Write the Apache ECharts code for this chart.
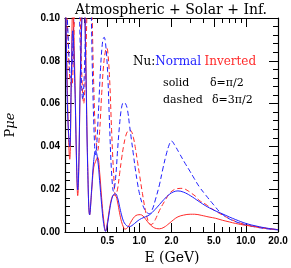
<!DOCTYPE html>
<html><head><meta charset="utf-8">
<script src="https://cdn.jsdelivr.net/npm/echarts@6/dist/echarts.min.js"></script>
<style>html,body{margin:0;padding:0;background:#fff}#c{width:291px;height:268px}</style>
</head><body><div id="c"></div>
<script>
// ---- tick labels ----
const xTickValues = [0.5, 1, 2, 5, 10, 20];
const xTickLabels = ['0.5', '1.0', '2.0', '5.0', '10.0', '20.0'];
const xMinorValues = [0.3, 0.4, 0.6, 0.7, 0.8, 0.9, 3, 4, 6, 7, 8, 9];
const yTickLabels = ['0.00', '0.02', '0.04', '0.06', '0.08', '0.10'];

// ---- Normal hierarchy, delta = pi/2 (solid blue) ----
const normalSolidE = [0.200,0.207,0.213,0.2217,0.229,0.2365,0.247,0.2577,0.2633,0.2691,0.2809,0.2996,0.3128,0.3266,0.3409,0.3559,0.3716,0.3879,0.405,0.4228,0.4414,0.4608,0.481,0.5022,0.5243,0.5473,0.5715,0.5966,0.6229,0.6503,0.6789,0.7087,0.7399,0.7724,0.8064,0.85,0.90,1.0,1.1,1.24,1.4,1.54,1.7,1.9,2.1,2.3,2.6,3.0,3.64,4.2,5.0,6.0,7.0,8.0,10,12.7,15.7,20];
const normalSolidP = [0.130,0.080,0.052,0.040,0.070,0.094,0.070,0.030,0.0196,0.030,0.080,0.115,0.080,0.030,0.008,0.020,0.033,0.038,0.034,0.024,0.013,0.004,0.0003,0.004,0.010,0.015,0.0175,0.0178,0.016,0.012,0.008,0.005,0.0035,0.0027,0.0025,0.0030,0.0040,0.0058,0.0068,0.0080,0.0105,0.0128,0.0152,0.0175,0.0188,0.0192,0.0186,0.0170,0.0142,0.0122,0.0102,0.0085,0.0070,0.0058,0.0040,0.0027,0.0018,0.0011];

// ---- Inverted hierarchy, delta = pi/2 (solid red) ----
const invertedSolidE = [0.200,0.207,0.2217,0.229,0.2365,0.247,0.2577,0.2633,0.2691,0.2809,0.2996,0.3128,0.3266,0.3409,0.3559,0.3716,0.3879,0.405,0.4228,0.4414,0.4608,0.481,0.5022,0.5243,0.5473,0.5715,0.5966,0.6229,0.6503,0.6789,0.7087,0.73,0.7724,0.8064,0.85,0.90,0.96,1.02,1.08,1.15,1.24,1.35,1.45,1.54,1.7,1.9,2.1,2.3,2.6,3.0,3.3,3.8,4.5,5.2,6.0,7.0,8.0,10,12.7,15.7,20];
const invertedSolidP = [0.140,0.085,0.034,0.070,0.105,0.075,0.028,0.017,0.028,0.080,0.120,0.085,0.032,0.008,0.019,0.030,0.033,0.035,0.028,0.016,0.006,0.0005,0.005,0.011,0.0155,0.0172,0.017,0.014,0.009,0.0048,0.0022,0.0013,0.0020,0.0035,0.0055,0.0072,0.0080,0.0081,0.0075,0.0058,0.0038,0.0022,0.0016,0.0015,0.0022,0.0040,0.0058,0.0071,0.0079,0.0083,0.0083,0.0078,0.0070,0.0064,0.0055,0.0047,0.0040,0.0031,0.0024,0.0017,0.0011];

// ---- Normal hierarchy, delta = 3pi/2 (dashed blue) ----
const normalDashedE = [0.200,0.2034,0.2124,0.2217,0.2265,0.2365,0.2469,0.2577,0.2691,0.2809,0.2933,0.3062,0.3196,0.3337,0.3483,0.3637,0.3797,0.3879,0.3963,0.4138,0.432,0.451,0.4659,0.481,0.5022,0.5243,0.5473,0.5715,0.5966,0.6229,0.6503,0.6789,0.7087,0.7399,0.7724,0.8064,0.8418,0.8788,0.9175,0.9579,1.0,1.067,1.138,1.24,1.32,1.41,1.54,1.65,1.78,1.91,2.0,2.12,2.37,2.69,2.93,3.27,3.64,4.23,4.92,5.84,6.94,8.24,10,12.67,15.72,20];
const normalDashedP = [0.110,0.112,0.095,0.075,0.072,0.085,0.115,0.135,0.115,0.080,0.062,0.080,0.120,0.140,0.115,0.070,0.040,0.036,0.040,0.058,0.077,0.089,0.091,0.088,0.075,0.050,0.028,0.019,0.025,0.038,0.050,0.058,0.0605,0.060,0.057,0.050,0.043,0.036,0.029,0.023,0.018,0.013,0.010,0.0085,0.0105,0.015,0.022,0.029,0.036,0.041,0.0425,0.041,0.0368,0.032,0.029,0.025,0.0212,0.017,0.013,0.0088,0.0062,0.0046,0.0033,0.0022,0.0015,0.0010];

// ---- Inverted hierarchy, delta = 3pi/2 (dashed red) ----
const invertedDashedE = [0.200,0.2034,0.2124,0.2217,0.2314,0.2416,0.2522,0.2633,0.2749,0.287,0.2996,0.3128,0.3266,0.3409,0.3559,0.3716,0.3879,0.405,0.4228,0.4414,0.4608,0.481,0.4915,0.5022,0.5243,0.5473,0.5715,0.5966,0.6229,0.6503,0.6789,0.7087,0.7399,0.7724,0.8064,0.8418,0.8788,0.9175,0.9579,1.0,1.067,1.138,1.20,1.24,1.29,1.35,1.41,1.54,1.65,1.78,1.91,2.12,2.3,2.54,2.8,3.1,3.4,3.64,4.23,4.92,5.84,6.94,8.24,10,12.67,15.72,20];
const invertedDashedP = [0.105,0.108,0.092,0.072,0.068,0.090,0.120,0.130,0.110,0.075,0.060,0.080,0.115,0.135,0.110,0.070,0.045,0.038,0.047,0.064,0.078,0.085,0.086,0.085,0.072,0.048,0.028,0.017,0.020,0.027,0.034,0.040,0.0445,0.047,0.0477,0.047,0.044,0.039,0.033,0.027,0.018,0.010,0.0055,0.0040,0.0035,0.0042,0.0058,0.0100,0.0128,0.0155,0.0180,0.0198,0.0203,0.0204,0.0195,0.0180,0.0165,0.0148,0.0128,0.0105,0.0083,0.0063,0.0047,0.0034,0.0023,0.0016,0.0010];

const zip = (xs, ys) => xs.map((x, i) => [x, ys[i]]);
const BLUE = '#1f1fff', RED = '#ff2a2a';
const SERIF = 'DejaVu Serif';
const SANS = 'Liberation Sans';
const GRID = { left: 65, right: 13, top: 18, bottom: 36 };
const W = 291 - GRID.left - GRID.right;   // plot width
const H = 268 - GRID.top - GRID.bottom;   // plot height

// x axis: frame line + labels, or a tick-only axis placed on the opposite edge
function xAxisDef(opts) {
  return {
    type: 'log', logBase: 10, min: 0.2, max: 20,
    position: opts.position, offset: opts.offset || 0,
    axisLine: { show: !!opts.line, onZero: false, lineStyle: { color: '#000', width: 1.2 } },
    axisTick: opts.ticks ? { show: true, inside: false, length: opts.len, customValues: opts.ticks, lineStyle: { color: '#000', width: 1 } } : { show: false },
    minorTick: { show: false },
    splitLine: { show: false },
    axisLabel: opts.labels ? {
      show: true, customValues: xTickValues, color: '#000', fontSize: 10, fontWeight: 'bold', fontFamily: SANS, margin: 4,
      formatter: v => { const i = xTickValues.findIndex(t => Math.abs(t - v) < 1e-6); return i >= 0 ? xTickLabels[i] : ''; }
    } : { show: false }
  };
}
function yAxisDef(opts) {
  return {
    type: 'value', min: 0, max: 0.1, interval: 0.02,
    position: opts.position, offset: opts.offset || 0,
    axisLine: { show: !!opts.line, onZero: false, lineStyle: { color: '#000', width: 1.2 } },
    axisTick: opts.ticks ? { show: true, inside: false, length: 9, lineStyle: { color: '#000', width: 1 } } : { show: false },
    minorTick: opts.ticks ? { show: true, splitNumber: 5, length: 5, lineStyle: { color: '#000', width: 1 } } : { show: false },
    splitLine: { show: false },
    axisLabel: opts.labels ? {
      show: true, color: '#000', fontSize: 10, fontWeight: 'bold', fontFamily: SANS, margin: 5,
      formatter: v => yTickLabels[Math.round(v / 0.02)]
    } : { show: false }
  };
}
function line(data, color, dashed) {
  return {
    type: 'line', xAxisIndex: 0, yAxisIndex: 0, data: data, showSymbol: false, symbol: 'none',
    smooth: 0.4, clip: true, silent: true,
    lineStyle: { color: color, width: 1, type: dashed ? [5, 3] : 'solid' }
  };
}

const chart = echarts.init(document.getElementById('c'), null, { renderer: 'canvas' });
chart.setOption({
  animation: false,
  backgroundColor: '#fff',
  grid: Object.assign({ containLabel: false }, GRID),
  xAxis: [
    xAxisDef({ position: 'bottom', line: true, labels: true }),
    xAxisDef({ position: 'top', line: true }),
    xAxisDef({ position: 'top', offset: -H, ticks: xTickValues, len: 9 }),
    xAxisDef({ position: 'top', offset: -H, ticks: xMinorValues, len: 5 }),
    xAxisDef({ position: 'bottom', offset: -H, ticks: xTickValues, len: 9 }),
    xAxisDef({ position: 'bottom', offset: -H, ticks: xMinorValues, len: 5 })
  ],
  yAxis: [
    yAxisDef({ position: 'left', line: true, labels: true }),
    yAxisDef({ position: 'right', line: true }),
    yAxisDef({ position: 'right', offset: -W, ticks: true }),
    yAxisDef({ position: 'left', offset: -W, ticks: true })
  ],
  series: [
    line(zip(invertedDashedE, invertedDashedP), RED, true),
    line(zip(normalDashedE, normalDashedP), BLUE, true),
    line(zip(invertedSolidE, invertedSolidP), RED, false),
    line(zip(normalSolidE, normalSolidP), BLUE, false)
  ],
  graphic: [
    { type: 'text', x: 171, y: 10, style: { text: 'Atmospheric + Solar + Inf.', fontFamily: SERIF, fontSize: 14, fill: '#000', align: 'center', verticalAlign: 'middle' } },
    { type: 'text', x: 133, y: 62, style: {
        text: '{k|Nu:}{b|Normal} {r|Inverted}', verticalAlign: 'middle',
        rich: { k: { fontFamily: SERIF, fontSize: 12, fill: '#000' }, b: { fontFamily: SERIF, fontSize: 12, fill: BLUE }, r: { fontFamily: SERIF, fontSize: 12, fill: RED } } } },
    { type: 'text', x: 163, y: 83, style: { text: 'solid', fontFamily: SERIF, fontSize: 11, fill: '#000', verticalAlign: 'middle' } },
    { type: 'text', x: 210, y: 83, style: { text: 'δ=π/2', fontFamily: SERIF, fontSize: 11, fill: '#000', verticalAlign: 'middle' } },
    { type: 'text', x: 163, y: 100, style: { text: 'dashed', fontFamily: SERIF, fontSize: 11, fill: '#000', verticalAlign: 'middle' } },
    { type: 'text', x: 212, y: 100, style: { text: 'δ=3π/2', fontFamily: SERIF, fontSize: 11, fill: '#000', verticalAlign: 'middle' } },
    { type: 'text', x: 172, y: 258, style: { text: 'E (GeV)', fontFamily: SERIF, fontSize: 14, fill: '#000', align: 'center', verticalAlign: 'middle' } },
    { type: 'text', x: 11, y: 125, rotation: Math.PI / 2, style: {
        text: '{p|P}{m|μe}', align: 'center', verticalAlign: 'middle',
        rich: { p: { fontFamily: SERIF, fontSize: 13, fill: '#000' }, m: { fontFamily: SERIF, fontSize: 13, fontStyle: 'italic', fill: '#000' } } } }
  ]
});
</script>
</body></html>
